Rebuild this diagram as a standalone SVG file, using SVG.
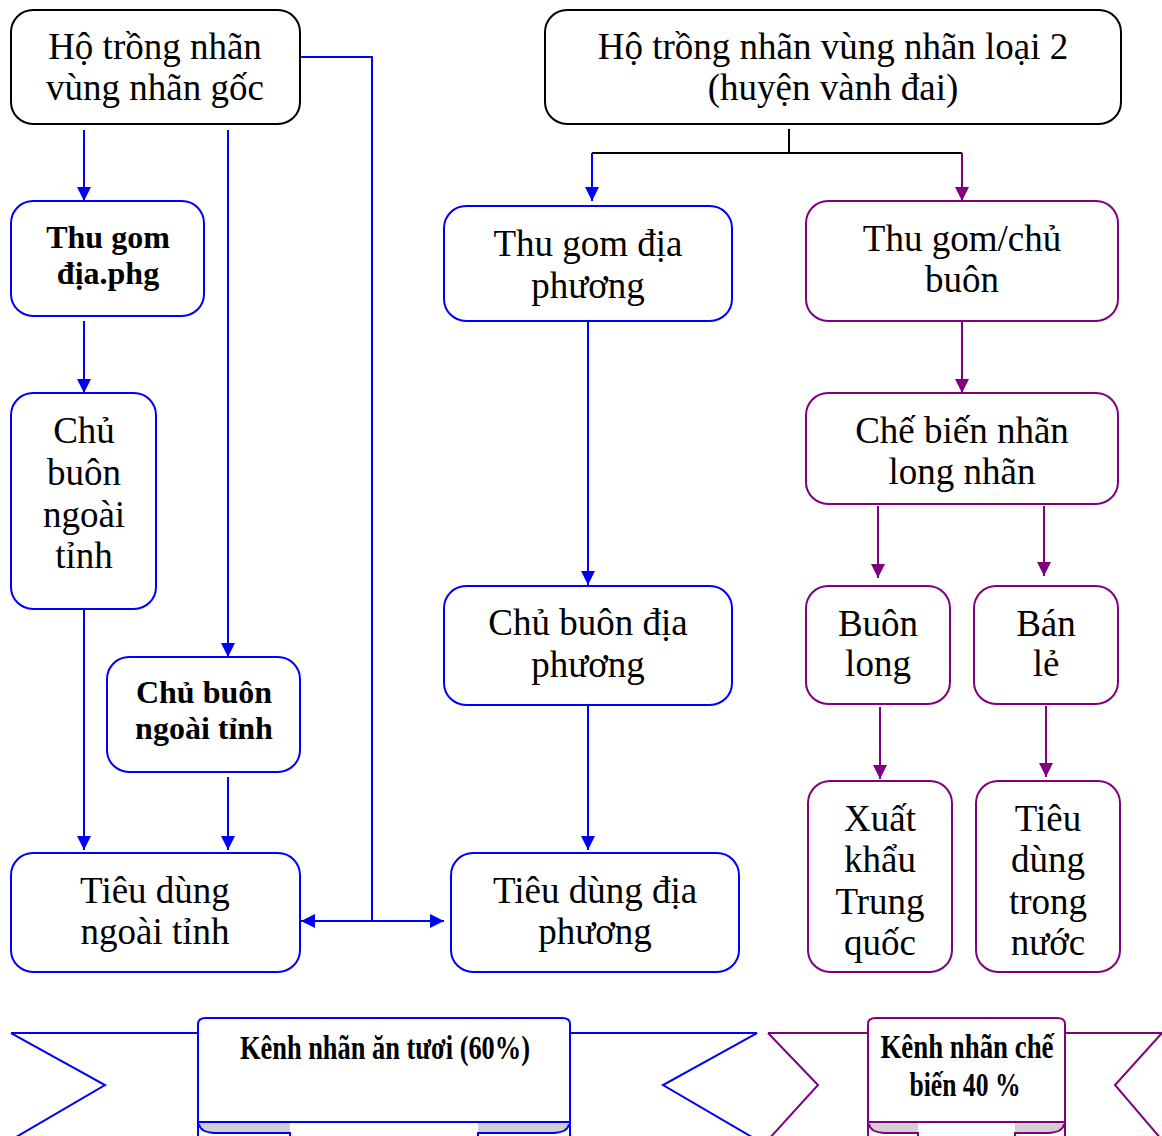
<svg xmlns="http://www.w3.org/2000/svg" width="1162" height="1136" viewBox="0 0 1162 1136">
<defs>
<marker id="ab" viewBox="0 0 14 14" refX="14" refY="7" markerWidth="14" markerHeight="14" markerUnits="userSpaceOnUse" orient="auto-start-reverse"><path d="M0,0 L14,7 L0,14 Z" fill="#0000FF"/></marker>
<marker id="ap" viewBox="0 0 14 14" refX="14" refY="7" markerWidth="14" markerHeight="14" markerUnits="userSpaceOnUse" orient="auto-start-reverse"><path d="M0,0 L14,7 L0,14 Z" fill="#800080"/></marker>
<style>
.bk{fill:#fff;stroke:#000;stroke-width:2}
.bl{fill:#fff;stroke:#0000FF;stroke-width:2}
.pu{fill:#fff;stroke:#800080;stroke-width:2}
text{fill:#000;text-anchor:middle}
.t{font-size:37px}
.b{font-size:32px;font-weight:bold}
.r{font-size:33px;font-weight:bold}
.cb{fill:none;stroke:#0000FF;stroke-width:2}
.cp{fill:none;stroke:#800080;stroke-width:2}
.ck{fill:none;stroke:#000;stroke-width:2}
.gray{fill:#d0d0d0}
</style>
</defs>

<g id="connectors">
<path class="cb" d="M84,130 V201" marker-end="url(#ab)"/>
<path class="cb" d="M84,321 V393" marker-end="url(#ab)"/>
<path class="cb" d="M228,130 V657" marker-end="url(#ab)"/>
<path class="cb" d="M84,609 V850" marker-end="url(#ab)"/>
<path class="cb" d="M228,777 V850" marker-end="url(#ab)"/>
<path class="cb" d="M300,57 H372 V921"/>
<path class="cb" d="M301,921 H444" marker-start="url(#ab)" marker-end="url(#ab)"/>
<path class="ck" d="M789,129 V153 M592,153 H962"/>
<path class="cb" d="M592,153 V201" marker-end="url(#ab)"/>
<path class="cp" d="M962,153 V201" marker-end="url(#ap)"/>
<path class="cb" d="M588,321 V585" marker-end="url(#ab)"/>
<path class="cb" d="M588,705 V850" marker-end="url(#ab)"/>
<path class="cp" d="M962,321 V393" marker-end="url(#ap)"/>
<path class="cp" d="M878,506 V578" marker-end="url(#ap)"/>
<path class="cp" d="M1044,506 V576" marker-end="url(#ap)"/>
<path class="cp" d="M880,707 V779" marker-end="url(#ap)"/>
<path class="cp" d="M1046,706 V777" marker-end="url(#ap)"/>
</g>

<g font-family="'Liberation Serif', 'DejaVu Serif', serif">
<g id="n-ho-goc"><rect class="bk" x="11" y="10" width="289" height="114" rx="22"/>
<text class="t" x="155" y="59">Hộ trồng nhãn</text><text class="t" x="155" y="100">vùng nhãn gốc</text></g>

<g id="n-ho-loai2"><rect class="bk" x="545" y="10" width="576" height="114" rx="22"/>
<text class="t" x="833" y="59">Hộ trồng nhãn vùng nhãn loại 2</text><text class="t" x="833" y="100">(huyện vành đai)</text></g>

<g id="n-thugom-phg"><rect class="bl" x="11" y="201" width="193" height="115" rx="22"/>
<text class="b" x="108" y="248">Thu gom</text><text class="b" x="108" y="284">địa.phg</text></g>

<g id="n-chubuon-ngoai1"><rect class="bl" x="11" y="393" width="145" height="216" rx="22"/>
<text class="t" x="84" y="443">Chủ</text><text class="t" x="84" y="485">buôn</text><text class="t" x="84" y="527">ngoài</text><text class="t" x="84" y="568">tỉnh</text></g>

<g id="n-chubuon-ngoai2"><rect class="bl" x="107" y="657" width="193" height="115" rx="22"/>
<text class="b" x="204" y="703">Chủ buôn</text><text class="b" x="204" y="739">ngoài tỉnh</text></g>

<g id="n-tieudung-ngoai"><rect class="bl" x="11" y="853" width="289" height="119" rx="22"/>
<text class="t" x="155" y="903">Tiêu dùng</text><text class="t" x="155" y="944">ngoài tỉnh</text></g>

<g id="n-thugom-dp"><rect class="bl" x="444" y="206" width="288" height="115" rx="22"/>
<text class="t" x="588" y="256">Thu gom địa</text><text class="t" x="588" y="298">phương</text></g>

<g id="n-chubuon-dp"><rect class="bl" x="444" y="586" width="288" height="119" rx="22"/>
<text class="t" x="588" y="635">Chủ buôn địa</text><text class="t" x="588" y="677">phương</text></g>

<g id="n-tieudung-dp"><rect class="bl" x="451" y="853" width="288" height="119" rx="22"/>
<text class="t" x="595" y="903">Tiêu dùng địa</text><text class="t" x="595" y="944">phương</text></g>

<g id="n-thugom-chubuon"><rect class="pu" x="806" y="201" width="312" height="120" rx="22"/>
<text class="t" x="962" y="251">Thu gom/chủ</text><text class="t" x="962" y="292">buôn</text></g>

<g id="n-chebien"><rect class="pu" x="806" y="393" width="312" height="111" rx="22"/>
<text class="t" x="962" y="443">Chế biến nhãn</text><text class="t" x="962" y="484">long nhãn</text></g>

<g id="n-buonlong"><rect class="pu" x="806" y="586" width="144" height="118" rx="22"/>
<text class="t" x="878" y="636">Buôn</text><text class="t" x="878" y="676">long</text></g>

<g id="n-banle"><rect class="pu" x="974" y="586" width="144" height="118" rx="22"/>
<text class="t" x="1046" y="636">Bán</text><text class="t" x="1046" y="676">lẻ</text></g>

<g id="n-xuatkhau"><rect class="pu" x="808" y="781" width="144" height="191" rx="22"/>
<text class="t" x="880" y="831">Xuất</text><text class="t" x="880" y="872">khẩu</text><text class="t" x="880" y="914">Trung</text><text class="t" x="880" y="955">quốc</text></g>

<g id="n-tieudung-nuoc"><rect class="pu" x="976" y="781" width="144" height="191" rx="22"/>
<text class="t" x="1048" y="831">Tiêu</text><text class="t" x="1048" y="872">dùng</text><text class="t" x="1048" y="914">trong</text><text class="t" x="1048" y="955">nước</text></g>

<g id="ribbon-tuoi">
<path class="cb" d="M11,1033 H198 M11,1033 L105,1085 L11,1140"/>
<path class="cb" d="M570,1033 H757 L663,1085 L757,1140"/>
<path class="bl" d="M198,1136 V1024 Q198,1018 206,1018 H562 Q570,1018 570,1024 V1136"/>
<path class="gray" d="M199,1123 Q199,1132 214,1133 H290 V1123 Z"/>
<path class="gray" d="M569,1123 Q569,1132 554,1133 H478 V1123 Z"/>
<path class="cb" d="M198,1122 H570 M199,1124 Q200,1132 214,1133 H290 V1136 M569,1124 Q568,1132 554,1133 H478 V1136"/>
<text class="r" x="385" y="1059" textLength="290" lengthAdjust="spacingAndGlyphs">Kênh nhãn ăn tươi (60%)</text>
</g>

<g id="ribbon-chebien">
<path class="cp" d="M768,1033 H868 M768,1033 L818,1085 L768,1140"/>
<path class="cp" d="M1065,1033 H1162 M1162,1033 L1115,1085 L1162,1140"/>
<path class="pu" d="M868,1136 V1024 Q868,1018 876,1018 H1057 Q1065,1018 1065,1024 V1136"/>
<path class="gray" d="M869,1123 Q869,1132 884,1133 H918 V1123 Z"/>
<path class="gray" d="M1064,1123 Q1064,1132 1049,1133 H1015 V1123 Z"/>
<path class="cp" d="M868,1122 H1065 M869,1124 Q870,1132 884,1133 H918 V1136 M1064,1124 Q1063,1132 1049,1133 H1015 V1136"/>
<text class="r" x="967" y="1058" textLength="173" lengthAdjust="spacingAndGlyphs">Kênh nhãn chế</text>
<text class="r" x="965" y="1096" textLength="111" lengthAdjust="spacingAndGlyphs">biến 40 %</text>
</g>
</g>
</svg>
